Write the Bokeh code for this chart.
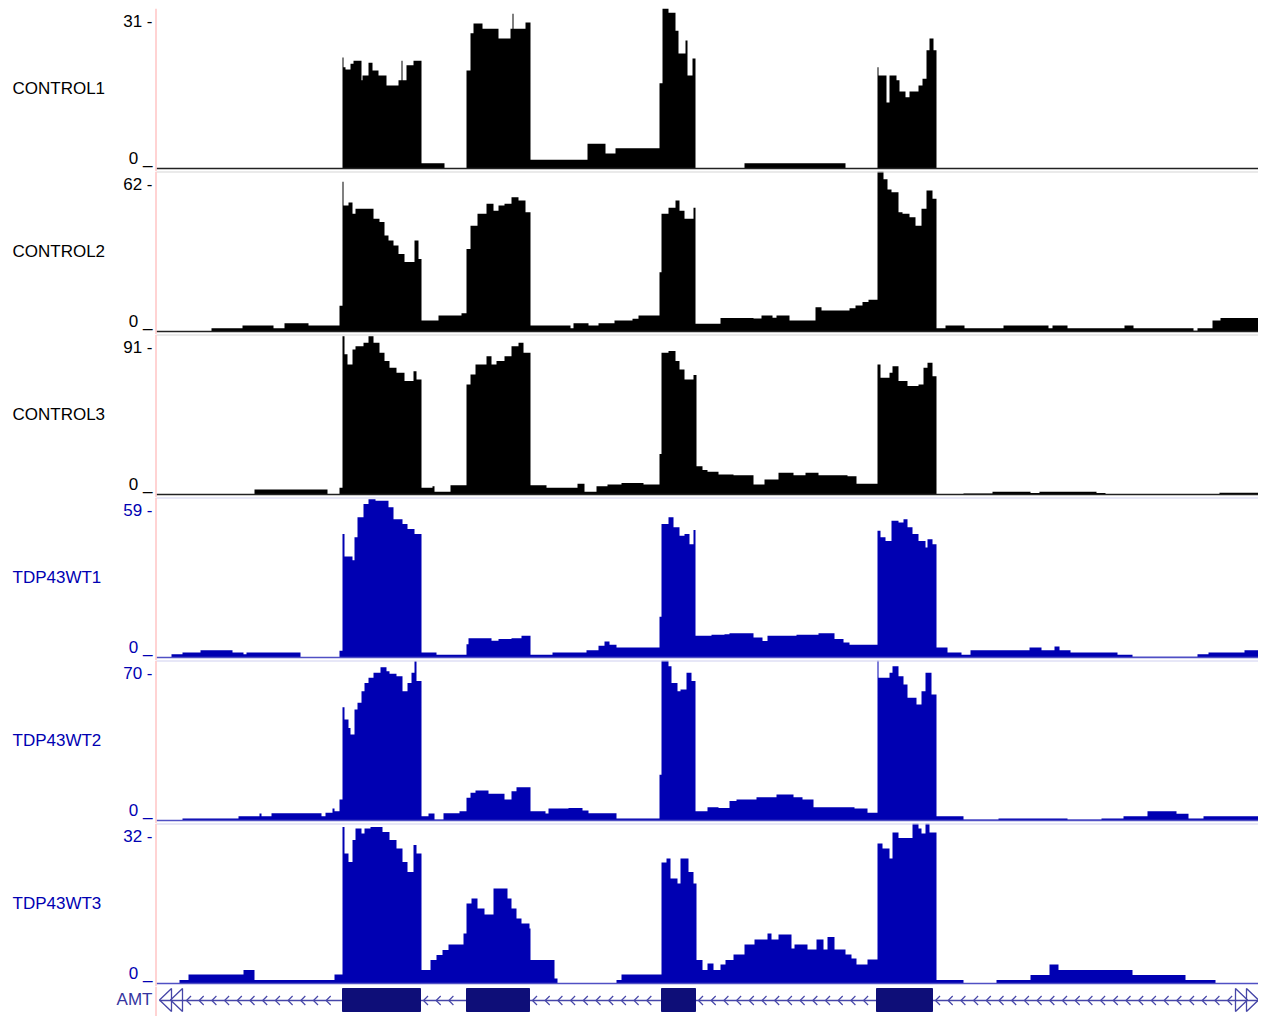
import numpy as np
from bokeh.plotting import figure
from bokeh.models import Range1d, Label, Span
from bokeh.layouts import column
from bokeh.embed import file_html
from bokeh.resources import INLINE

# ---------------- data ----------------
VIEW_START = 0
VIEW_END = 1102          # window width in position units
LABEL_AREA = 156         # room left of the data window for track labels

track_names = ["CONTROL1", "CONTROL2", "CONTROL3", "TDP43WT1", "TDP43WT2", "TDP43WT3"]
track_max = [31, 62, 91, 59, 70, 32]

ctrl1_pos = [0, 186, 187, 189, 194, 197, 205, 206, 212, 216, 222, 230, 242, 245, 246, 250, 257, 265, 288, 310,
             314, 317, 326, 342, 354, 356, 357, 369, 374, 431, 449, 459, 503, 506, 512, 519, 522, 529, 531, 536,
             539, 588, 689, 721, 722, 730, 733, 740, 743, 749, 753, 762, 766, 770, 773, 777, 780]
ctrl1_cov = [0, 21.5, 19.6, 19.2, 20.3, 20.9, 17.1, 18.0, 20.5, 19.0, 18.0, 16.1, 17.1, 20.9, 17.1, 20.0, 20.9, 1.0, 0, 19.0,
             26.2, 28.1, 27.1, 25.2, 27.1, 30.0, 27.1, 28.3, 1.7, 4.8, 2.9, 3.9, 16.5, 31.0, 30.2, 26.7, 22.3, 24.8, 18.0, 21.3,
             0, 1.0, 0, 19.6, 18.0, 12.8, 18.0, 17.1, 14.9, 13.8, 14.9, 16.1, 17.4, 22.9, 25.2, 22.9, 0]

ctrl2_pos = [0, 55, 86, 117, 128, 152, 183, 186, 187, 192, 196, 199, 217, 223, 228, 232, 237, 242, 248, 258,
             262, 265, 282, 305, 310, 314, 321, 330, 337, 342, 348, 355, 362, 369, 374, 414, 417, 432, 442, 458,
             476, 482, 503, 505, 512, 519, 523, 528, 537, 539, 564, 597, 605, 616, 620, 633, 659, 665, 693, 699,
             706, 712, 721, 727, 731, 735, 742, 746, 753, 759, 765, 770, 776, 780, 789, 808, 847, 892, 896, 911,
             968, 977, 1037, 1041, 1056, 1064]
ctrl2_cov = [0, 1.3, 2.3, 1.3, 3.2, 2.3, 10, 58, 48.8, 50, 45.6, 47.6, 43.7, 42.4, 37.2, 35.3, 33.3, 30, 26.9, 35.3,
             28.1, 4.3, 6.2, 7.1, 32, 41, 45.6, 49.5, 46.8, 48.8, 49.5, 52, 50.8, 46.2, 2.3, 1.3, 3.2, 2.3, 3.2, 4.3,
             4.9, 6.2, 23, 45.6, 48, 50.8, 46.8, 43.7, 48, 3.0, 5.2, 5.0, 6.2, 5.3, 6.2, 4.3, 9.4, 8.1, 9.0, 10.1,
             11.4, 12.3, 62, 59, 55, 54, 46.2, 45.6, 44.3, 41, 47.6, 54.6, 51.4, 1.3, 2.3, 1.3, 2.3, 1.3, 2.3, 1.3,
             2.3, 1.3, 0.3, 1.3, 4.3, 5.2]

ctrl3_pos = [0, 98, 171, 183, 186, 188, 191, 196, 199, 207, 212, 217, 223, 228, 233, 240, 248, 257, 260, 265,
             276, 278, 294, 310, 314, 319, 330, 335, 340, 348, 355, 362, 367, 374, 390, 421, 428, 440, 451, 465,
             487, 503, 505, 512, 519, 523, 528, 537, 540, 546, 551, 562, 577, 597, 608, 622, 637, 649, 662, 691,
             700, 721, 724, 733, 736, 742, 751, 762, 767, 771, 776, 780, 807, 836, 874, 883, 940, 949, 1063]
ctrl3_cov = [0, 2.8, 0, 3.8, 90, 79.7, 74, 82.5, 84.3, 86.3, 90, 86.3, 80.6, 75.9, 72.1, 69.2, 64.5, 70.1, 65.4, 3.8,
             4.7, 1.5, 5.3, 62.6, 68.3, 74, 78.7, 74, 75.9, 78.7, 84.3, 86.3, 80.6, 5.3, 3.8, 6.1, 1.5, 4.7, 5.7, 6.6,
             5.7, 23, 80.6, 81.6, 75.9, 71.1, 65.4, 68, 16.1, 14, 12.9, 11.4, 11.0, 5.7, 8.5, 12.3, 11.0, 12.3, 11.0, 10.4,
             6.1, 74, 66.4, 69.2, 73, 64.5, 61.7, 62.6, 72.1, 74.9, 67.3, 0, 0.6, 1.5, 0.9, 1.5, 0.9, 0, 1.0]

tdp1_pos = [0, 15, 26, 44, 76, 87, 90, 144, 183, 186, 188, 196, 198, 201, 207, 212, 219, 232, 237, 246,
            251, 258, 265, 280, 310, 312, 335, 342, 355, 365, 374, 396, 430, 442, 448, 453, 460, 503, 505, 512,
            517, 523, 528, 533, 537, 539, 555, 568, 573, 597, 606, 611, 640, 662, 678, 687, 693, 721, 724, 729,
            735, 742, 747, 751, 756, 762, 769, 771, 776, 780, 791, 805, 814, 873, 885, 898, 903, 914, 961, 976,
            1041, 1052, 1088]
tdp1_cov = [0, 1.2, 1.8, 2.7, 1.8, 1.2, 1.8, 0.2, 2.5, 45.5, 37.2, 35.9, 44.3, 51.7, 56.6, 58.4, 57.8, 55.4, 51, 49.2,
            47.4, 45.5, 1.8, 1.0, 4.9, 7.1, 6.2, 6.8, 7.1, 8.0, 1.0, 1.8, 2.7, 4.3, 5.9, 4.7, 3.7, 15, 49.2, 51.7,
            48, 44.9, 45.5, 41.8, 47, 8.0, 8.4, 8.6, 8.9, 7.4, 6.1, 8.0, 8.4, 8.9, 6.8, 5.5, 4.7, 46.7, 44.3, 43,
            50.4, 49.8, 51, 48, 45.5, 43, 40.6, 43.6, 41.8, 3.7, 1.8, 1.0, 2.7, 3.7, 2.7, 4.1, 2.7, 1.8, 1.0, 0.3,
            1.2, 1.8, 2.7]

tdp2_pos = [0, 26, 82, 103, 105, 115, 165, 169, 176, 178, 183, 186, 188, 192, 194, 198, 201, 205, 208, 212,
            217, 224, 230, 233, 240, 246, 251, 255, 258, 260, 265, 272, 278, 287, 303, 310, 314, 319, 332, 348,
            355, 360, 374, 389, 392, 412, 426, 432, 460, 503, 505, 512, 515, 521, 524, 530, 535, 539, 551, 562,
            573, 580, 600, 620, 637, 646, 657, 698, 711, 721, 722, 733, 736, 742, 747, 751, 760, 765, 769, 775,
            780, 807, 842, 911, 945, 967, 991, 1020, 1032, 1047]
tdp2_cov = [0, 0.9, 1.9, 3.1, 1.9, 3.2, 1.9, 3.4, 5.3, 4.1, 9.2, 49.6, 44.2, 40.5, 37.6, 48.6, 51.5, 56.6, 60.2, 62.4,
            64.6, 67.1, 65.3, 64.2, 63.1, 56.6, 60.2, 64.6, 69.7, 61, 1.9, 3.1, 0.4, 3.2, 4.1, 9.9, 12.1, 13.1, 11.7, 9.2,
            12.8, 14.6, 4.1, 3.1, 5.3, 5.5, 4.4, 3.2, 0.9, 20, 70, 67.5, 60.2, 56.6, 57.3, 64.6, 61, 4.1, 5.8, 5.5,
            8.5, 9.2, 10.2, 11.4, 10.2, 9.2, 5.8, 5.3, 3.4, 70, 62.4, 64.6, 67.5, 63.1, 59.5, 53.7, 50.8, 56.6, 64.6, 55.1,
            1.9, 0.4, 0.9, 0.4, 0.9, 1.9, 4.1, 2.9, 0.9, 1.9]

tdp3_pos = [0, 23, 32, 87, 98, 178, 186, 188, 192, 196, 199, 205, 208, 214, 226, 233, 240, 246, 251, 257,
            260, 265, 274, 280, 286, 292, 307, 310, 315, 321, 328, 337, 351, 355, 360, 365, 373, 374, 398, 401,
            460, 465, 505, 510, 514, 521, 524, 532, 537, 540, 546, 551, 557, 564, 569, 577, 588, 598, 611, 615,
            622, 635, 638, 651, 660, 667, 671, 678, 689, 695, 700, 711, 721, 726, 733, 736, 742, 756, 762, 765,
            769, 773, 780, 807, 840, 874, 893, 902, 976, 1029, 1059]
tdp3_cov = [0, 0.7, 1.8, 2.7, 0.7, 1.8, 31.3, 26, 24.3, 28.7, 31, 30, 31, 31.3, 30.3, 28.7, 27, 24.3, 22.3, 27.7,
            26, 2.7, 4.7, 5.7, 6.7, 7.8, 10, 16, 17, 15, 13.8, 19, 17, 15, 13, 12, 11, 4.7, 1.0, 0,
            0.7, 1.8, 24.2, 25, 21, 20, 25, 22.3, 20, 4.7, 2.7, 4, 2.7, 3.8, 4.7, 5.8, 7.8, 8.8, 10, 8.8,
            9.8, 7.0, 7.8, 6.8, 8.8, 6.8, 9.3, 6.8, 5.8, 5.0, 3.8, 4.8, 28, 27, 25, 30.2, 29.1, 32, 31, 30,
            32, 30.2, 0.7, 0, 0.7, 1.7, 3.8, 2.7, 1.7, 0.7, 0]

gene_name = "AMT"
gene_start = 3
gene_end = 1102
exon_starts = [186, 310, 505, 720]
exon_ends = [264, 373, 539, 776]

# ---------------- style ----------------
BLACK = "#000000"
BLUE = "#0000b2"
PINK = "#ffc4c4"
FONT = "Liberation Sans"
FS = "17px"
TRACK_H = 163
TOP_PAD = 8
WIDTH = LABEL_AREA + VIEW_END

x_range = Range1d(VIEW_START - LABEL_AREA, VIEW_END)


def base_fig(height, y_range, top=0):
    p = figure(width=WIDTH, height=height, x_range=x_range, y_range=y_range,
               output_backend="svg", toolbar_location=None,
               min_border_left=0, min_border_right=0, min_border_top=top, min_border_bottom=0,
               x_axis_location=None, y_axis_location=None, outline_line_color=None,
               background_fill_color="white", border_fill_color="white")
    p.grid.visible = False
    p.add_layout(Span(location=VIEW_START - 0.5, dimension="height", line_color=PINK, line_width=1.5))
    return p


def label(p, x, y, text, align, color):
    p.add_layout(Label(x=x, y=y, x_units="screen", y_units="screen", text=text,
                       text_align=align, text_baseline="alphabetic",
                       text_font=FONT, text_font_size=FS, text_color=color))


def make_track(i, starts, values, color, base_color, sep_color):
    ymax = track_max[i]
    top = TOP_PAD if i == 0 else 0
    p = base_fig(TRACK_H + top, Range1d(-3.0 * ymax / 160.0, ymax), top)
    xs = starts + [VIEW_END]
    ys = values + [values[-1]]
    p.varea_step(x=xs, y1=[0] * len(xs), y2=ys, step_mode="after", fill_color=color)
    p.segment(x0=[VIEW_START], y0=[0], x1=[VIEW_END], y1=[0], line_color=base_color, line_width=1.5)
    if i > 0:
        p.segment(x0=[VIEW_START], y0=[ymax], x1=[VIEW_END], y1=[ymax], line_color=sep_color, line_width=2)
    label(p, LABEL_AREA - 4, TRACK_H - 13, f"{ymax} -", "right", color)
    label(p, LABEL_AREA - 4, 13, "0 _", "right", color)
    label(p, 12, 83, track_names[i], "left", color)
    return p


tracks = [
    (ctrl1_pos, ctrl1_cov, BLACK, "#222222", "#d6d6d6"),
    (ctrl2_pos, ctrl2_cov, BLACK, "#222222", "#d6d6d6"),
    (ctrl3_pos, ctrl3_cov, BLACK, "#222222", "#d6d6d6"),
    (tdp1_pos, tdp1_cov, BLUE, "#5050c4", "#cfcff0"),
    (tdp2_pos, tdp2_cov, BLUE, "#5050c4", "#cfcff0"),
    (tdp3_pos, tdp3_cov, BLUE, "#5050c4", "#cfcff0"),
]
figs = [make_track(i, *t) for i, t in enumerate(tracks)]

# ---------------- gene track ----------------
GENE_H = 30
LINE_C = "#4646a8"
EXON_C = "#0e0e78"
g = base_fig(GENE_H, Range1d(-16, 14))
g.segment(x0=[gene_start], y0=[0], x1=[gene_end], y1=[0], line_color=LINE_C, line_width=1.5)

# strand chevrons inside introns
intr_s = [gene_start + 24] + exon_ends
intr_e = exon_starts + [gene_end - 24]
cx = []
for s, e in zip(intr_s, intr_e):
    cx.extend(np.arange(s + 3, e - 5, 12.7).tolist())
cx = np.array(cx)
g.segment(x0=cx, y0=np.zeros_like(cx), x1=cx + 4.5, y1=np.full_like(cx, 4.5), line_color=LINE_C, line_width=1.2)
g.segment(x0=cx, y0=np.zeros_like(cx), x1=cx + 4.5, y1=np.full_like(cx, -4.5), line_color=LINE_C, line_width=1.2)

g.quad(left=exon_starts, right=exon_ends, bottom=-11, top=12, fill_color=EXON_C, line_color=EXON_C)

# continuation markers at both ends of the window
tri_w = 12
lx = [gene_start, gene_start + 11]
rx = [gene_end - 11, gene_end]
xs = [[a + tri_w, a, a + tri_w] for a in lx] + [[a - tri_w, a, a - tri_w] for a in rx]
ys = [[12, 0.5, -11]] * 4
g.patches(xs=xs, ys=ys, fill_color="white", fill_alpha=0.0, line_color=LINE_C, line_width=1.3)

label(g, LABEL_AREA - 4, 17, gene_name, "right", "#3535a0")

layout = column(*figs, g, spacing=0)
open("out.html", "w").write(file_html(layout, INLINE))
